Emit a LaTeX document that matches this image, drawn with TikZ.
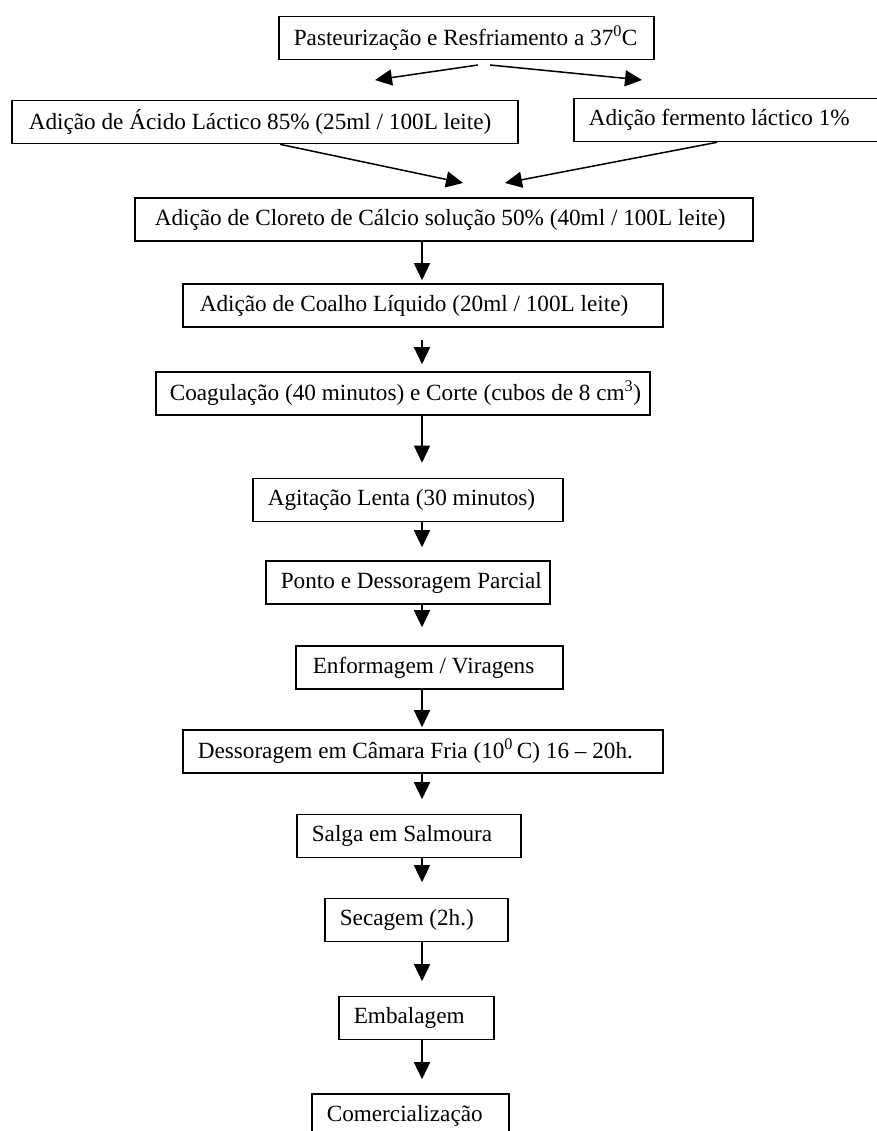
\documentclass[tikz,border=0pt]{standalone}
\usepackage{fontspec}
\setmainfont{Liberation Serif}
\usetikzlibrary{shapes,arrows.meta}

\newcommand{\linha}[2]{\makebox[#1][l]{#2}}

\begin{document}
\begin{tikzpicture}[x=1pt,y=-1pt]
\tikzstyle{every node}=[font=\fontsize{23.2}{28}\selectfont]
\tikzstyle{etapa}=[draw,line width=1.6pt,inner xsep=15pt,inner ysep=0pt,minimum height=43pt,anchor=west]
\tikzstyle{seta}=[line width=1.5pt,-{Triangle[length=17pt,width=16pt]}]
\useasboundingbox (0,0) rectangle (876,1131);
\node[etapa] (past) at (278,38) {\linha{345pt}{Pasteurização e Resfriamento a 37\textsuperscript{0}C}};
\node[etapa] (acido) at (11,122) {\linha{476pt}{\hspace*{2pt}Adição de Ácido Láctico 85\% (25ml / 100L leite)}};
\node[etapa] (ferm) at (573,120) {\linha{274pt}{Adição fermento láctico 1\%}};
\node[etapa] (cloreto) at (134,219.5) {\linha{588pt}{\hspace*{5pt}Adição de Cloreto de Cálcio solução 50\% (40ml / 100L leite)}};
\node[etapa] (coalho) at (182,305.5) {\linha{450pt}{\hspace*{2pt}Adição de Coalho Líquido (20ml / 100L leite)}};
\node[etapa] (coag) at (155,393.5) {\linha{464pt}{\hspace*{-1pt}Coagulação (40 minutos) e Corte (cubos de 8 cm\textsuperscript{3})}};
\node[etapa] (agit) at (252,500) {\linha{280pt}{Agitação Lenta (30 minutos)}};
\node[etapa] (ponto) at (265,582.5) {\linha{254pt}{Ponto e Dessoragem Parcial}};
\node[etapa] (enf) at (295,667.5) {\linha{237pt}{\hspace*{2pt}Enformagem / Viragens}};
\node[etapa] (camara) at (182,751.5) {\linha{450pt}{Dessoragem em Câmara Fria (10\textsuperscript{0}\,C) 16 – 20h.}};
\node[etapa] (salga) at (296,836) {\linha{194pt}{Salga em Salmoura}};
\node[etapa] (secag) at (324,920) {\linha{153pt}{Secagem (2h.)}};
\node[etapa] (embal) at (338,1018) {\linha{125pt}{Embalagem}};
\node[etapa] (comerc) at (311,1115.5) {\linha{167pt}{Comercialização}};

\coordinate (col) at (422,0);
\coordinate (s1) at (478,65);
\coordinate (t1) at (375,80);
\coordinate (s2) at (490,65);
\coordinate (t2) at (642,80);
\coordinate (l3) at (280,0);
\coordinate (r3) at (717,0);
\coordinate (m1) at (463,183);
\coordinate (m2) at (505,183);

\draw[seta] (s1) -- (t1);
\draw[seta] (s2) -- (t2);
\draw[seta] (acido.south -| l3) -- (m1);
\draw[seta] (ferm.south -| r3) -- (m2);
\draw[seta,shorten >=3pt] (cloreto.south -| col) -- (coalho.north -| col);
\draw[seta,shorten <=12pt,shorten >=7pt] (coalho.south -| col) -- (coag.north -| col);
\draw[seta,shorten >=15pt] (coag.south -| col) -- (agit.north -| col);
\draw[seta,shorten >=13pt] (agit.south -| col) -- (ponto.north -| col);
\draw[seta,shorten >=18pt] (ponto.south -| col) -- (enf.north -| col);
\draw[seta,shorten >=2pt] (enf.south -| col) -- (camara.north -| col);
\draw[seta,shorten >=14.5pt] (camara.south -| col) -- (salga.north -| col);
\draw[seta,shorten >=15.5pt] (salga.south -| col) -- (secag.north -| col);
\draw[seta,shorten >=14.5pt] (secag.south -| col) -- (embal.north -| col);
\draw[seta,shorten >=14pt] (embal.south -| col) -- (comerc.north -| col);
\end{tikzpicture}
\end{document}
